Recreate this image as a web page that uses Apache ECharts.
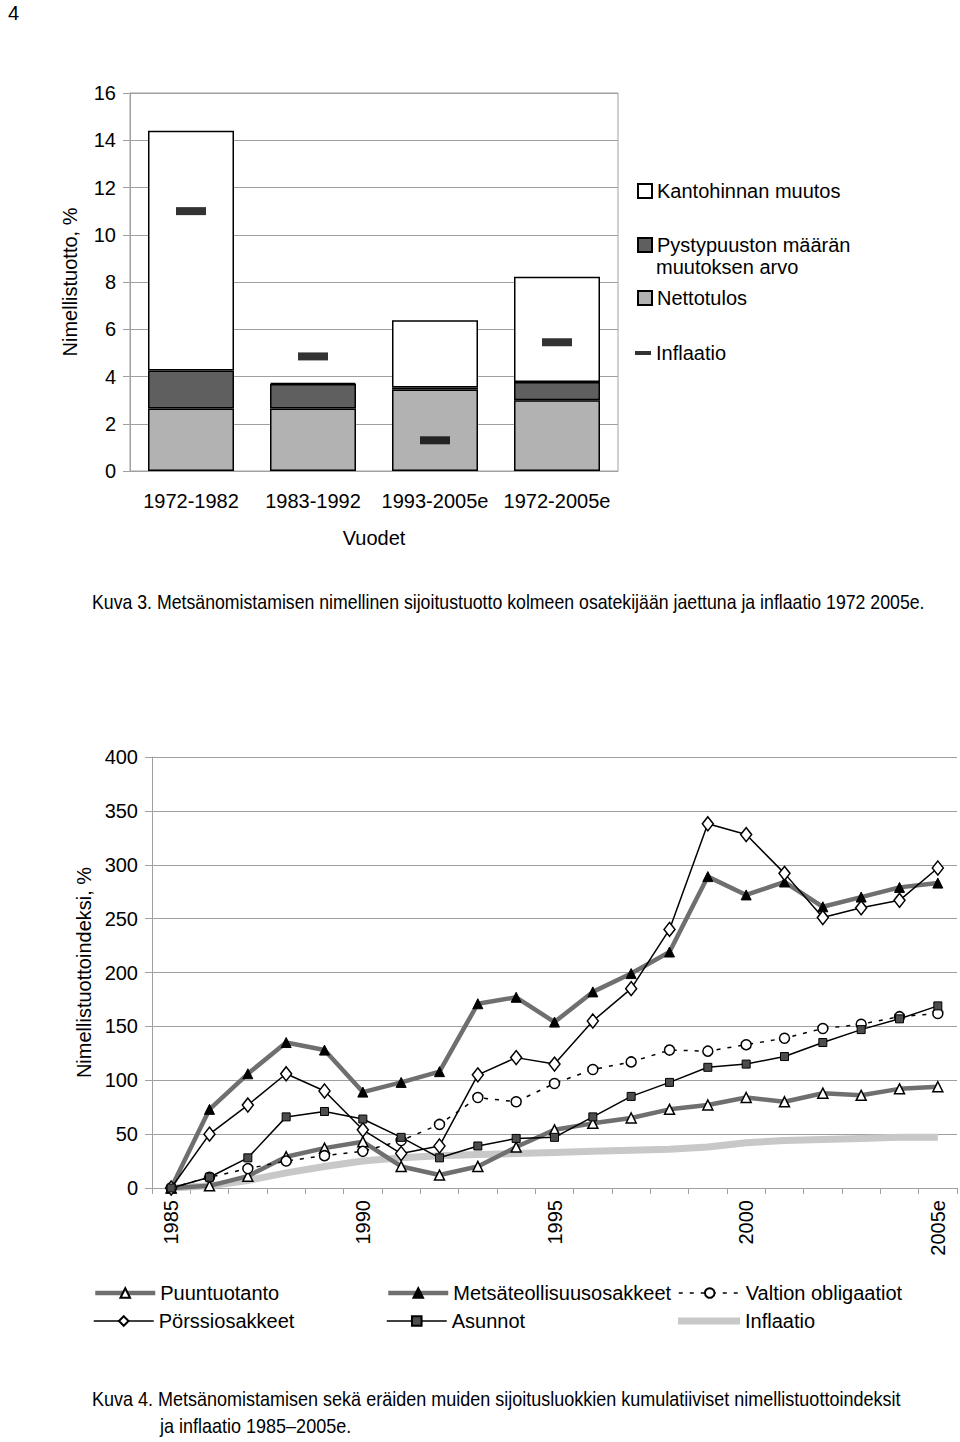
<!DOCTYPE html>
<html>
<head>
<meta charset="utf-8">
<script src="https://cdn.jsdelivr.net/npm/echarts@6/dist/echarts.min.js"></script>
<style>
html,body{margin:0;padding:0;background:#fff;}
#c{width:960px;height:1442px;}
</style>
</head>
<body>
<div id="c"></div>
<script>
// ---- Chart 1 data (Kuva 3) ----
const periods = ['1972-1982', '1983-1992', '1993-2005e', '1972-2005e'];
const nettotulos = [2.65, 2.65, 3.45, 3.0];
const pystypuusto = [1.6, 1.03, 0.08, 0.77];
const kantohinta = [10.15, 0.05, 2.85, 4.45];
const inflaatio1 = [11.0, 4.85, 1.3, 5.45];
const yTicks1 = [0, 2, 4, 6, 8, 10, 12, 14, 16];

// ---- Chart 2 data (Kuva 4) ----
const years = ['1985','1986','1987','1988','1989','1990','1991','1992','1993','1994','1995','1996','1997','1998','1999','2000','2001','2002','2003','2004','2005e'];
const puuntuotanto = [0, 2, 11, 29, 37, 43, 20, 12, 20, 38, 54, 60, 65, 73, 77, 84, 80, 88, 86, 92, 94];
const metsateollisuus = [0, 73, 106, 135, 128, 89, 98, 108, 171, 177, 154, 182, 199, 219, 289, 272, 284, 261, 270, 279, 283];
const obligaatiot = [0, 10, 18, 25, 30, 34, 44, 59, 84, 80, 97, 110, 117, 128, 127, 133, 139, 148, 152, 159, 162];
const porssi = [0, 50, 77, 106, 90, 54, 32, 39, 105, 121, 115, 155, 185, 240, 338, 328, 292, 251, 260, 267, 297];
const asunnot = [0, 10, 28, 66, 71, 64, 47, 28, 39, 46, 47, 66, 85, 98, 112, 115, 122, 135, 147, 157, 169];
const inflaatio2 = [0, 2, 7, 14, 20, 25, 28, 30, 31, 32, 33, 34, 35, 36, 38, 42, 44, 45, 46, 47, 47];

// captions
const caption3 = 'Kuva 3. Metsänomistamisen nimellinen sijoitustuotto kolmeen osatekijään jaettuna ja inflaatio 1972 2005e.';
const caption4a = 'Kuva 4. Metsänomistamisen sekä eräiden muiden sijoitusluokkien kumulatiiviset nimellistuottoindeksit';
const caption4b = 'ja inflaatio 1985–2005e.';

const F = 'Liberation Sans, Arial, sans-serif';
const GRID = '#a0a0a0';
const GRAYLINE = '#6f6f6f';

// narrow caption font emulation: horizontally condensed Liberation Sans
const CAPFONT = '20px "Liberation Sans"';
const mctx = document.createElement('canvas').getContext('2d');
mctx.font = CAPFONT;
const sx3 = 833 / mctx.measureText(caption3).width;
const sx4 = 809 / mctx.measureText(caption4a).width;

const chart = echarts.init(document.getElementById('c'), null, {renderer: 'svg'});

const pystyName = 'Pystypuuston määrän muutoksen arvo';

function lg(name, left, top, extra) {
  return Object.assign({
    data: [name], left: left, top: top, padding: 0, orient: 'horizontal',
    selectedMode: false,
    textStyle: {fontFamily: F, fontSize: 20, color: '#000', lineHeight: 24},
    lineStyle: {width: 'inherit'}
  }, extra || {});
}

function cap(text, x, y, s) {
  return {type: 'text', x: x, y: y, scaleX: s, scaleY: 1,
          style: {text: text, font: CAPFONT, fill: '#000', verticalAlign: 'middle', align: 'left'}};
}

const option = {
  animation: false,
  backgroundColor: '#fff',
  textStyle: {fontFamily: F},
  grid: [
    {left: 130, top: 93, width: 488, height: 378, show: true, borderColor: GRID, borderWidth: 1, backgroundColor: 'transparent'},
    {left: 152, top: 757, width: 805, height: 431}
  ],
  xAxis: [
    {
      gridIndex: 0, type: 'category', data: periods,
      axisLine: {lineStyle: {color: GRID, width: 1}},
      axisTick: {show: false},
      axisLabel: {color: '#000', fontFamily: F, fontSize: 20, margin: 20, interval: 0},
      name: 'Vuodet', nameLocation: 'middle', nameGap: 57,
      nameTextStyle: {color: '#000', fontFamily: F, fontSize: 20}
    },
    {
      gridIndex: 1, type: 'category', data: years, boundaryGap: true,
      axisLine: {lineStyle: {color: GRID, width: 1}},
      axisTick: {show: true, interval: 0, length: 6, lineStyle: {color: GRID}},
      axisLabel: {color: '#000', fontFamily: F, fontSize: 20, rotate: 90, interval: 4, margin: 12}
    }
  ],
  yAxis: [
    {
      gridIndex: 0, type: 'value', min: 0, max: 16, interval: 2,
      axisLine: {show: true, lineStyle: {color: GRID}},
      axisTick: {show: true, length: 7, lineStyle: {color: GRID}},
      splitLine: {lineStyle: {color: GRID, width: 1}},
      axisLabel: {color: '#000', fontFamily: F, fontSize: 20, margin: 14},
      name: 'Nimellistuotto, %', nameLocation: 'middle', nameRotate: 90, nameGap: 50,
      nameTextStyle: {color: '#000', fontFamily: F, fontSize: 20}
    },
    {
      gridIndex: 1, type: 'value', min: 0, max: 400, interval: 50,
      axisLine: {show: true, lineStyle: {color: GRID}},
      axisTick: {show: true, length: 7, lineStyle: {color: GRID}},
      splitLine: {lineStyle: {color: GRID, width: 1}},
      axisLabel: {color: '#000', fontFamily: F, fontSize: 20, margin: 14},
      name: 'Nimellistuottoindeksi, %', nameLocation: 'middle', nameRotate: 90, nameGap: 56,
      nameTextStyle: {color: '#000', fontFamily: F, fontSize: 20}
    }
  ],
  legend: [
    lg('Kantohinnan muutos', 637, 179, {icon: 'rect', itemWidth: 14, itemHeight: 14}),
    lg(pystyName, 637, 233, {icon: 'rect', itemWidth: 14, itemHeight: 14, formatter: function(){ return 'Pystypuuston määrän'; }}),
    lg('Nettotulos', 637, 286, {icon: 'rect', itemWidth: 14, itemHeight: 14}),
    lg('Inflaatio ', 635, 341, {icon: 'rect', itemWidth: 16, itemHeight: 4, formatter: function(){ return 'Inflaatio'; }}),
    lg('Puuntuotanto', 93, 1281, {itemWidth: 60, itemHeight: 12}),
    lg('Metsäteollisuusosakkeet', 386, 1281, {itemWidth: 60, itemHeight: 12}),
    lg('Valtion obligaatiot', 678, 1281, {itemWidth: 62, itemHeight: 12}),
    lg('Pörssiosakkeet', 93, 1309, {itemWidth: 60, itemHeight: 12}),
    lg('Asunnot', 386, 1309, {itemWidth: 60, itemHeight: 12}),
    lg('Inflaatio', 678, 1309, {icon: 'rect', itemWidth: 62, itemHeight: 7})
  ],
  graphic: [
    {type: 'text', left: 8, top: 3, style: {text: '4', font: '20px ' + F, fill: '#000'}},
    {type: 'text', left: 656, top: 257, style: {text: 'muutoksen arvo', font: '20px ' + F, fill: '#000'}},
    cap(caption3, 92, 602, sx3),
    cap(caption4a, 92, 1399, sx4),
    cap(caption4b, 160, 1426, sx4)
  ],
  series: [
    {name: 'Nettotulos', type: 'bar', xAxisIndex: 0, yAxisIndex: 0, stack: 's', barWidth: 86, data: nettotulos,
     itemStyle: {color: '#b2b2b2', borderColor: '#000', borderWidth: 1.5}},
    {name: pystyName, type: 'bar', xAxisIndex: 0, yAxisIndex: 0, stack: 's', barWidth: 86, data: pystypuusto,
     itemStyle: {color: '#5f5f5f', borderColor: '#000', borderWidth: 1.5}},
    {name: 'Kantohinnan muutos', type: 'bar', xAxisIndex: 0, yAxisIndex: 0, stack: 's', barWidth: 86, data: kantohinta,
     itemStyle: {color: '#fff', borderColor: '#000', borderWidth: 1.5}},
    {name: 'Inflaatio ', type: 'scatter', xAxisIndex: 0, yAxisIndex: 0, data: inflaatio1, symbol: 'rect', symbolSize: [30, 8],
     itemStyle: {color: '#000'}, z: 5},

    {name: 'Inflaatio', type: 'line', xAxisIndex: 1, yAxisIndex: 1, data: inflaatio2, symbol: 'none',
     lineStyle: {color: '#c8c8c8', width: 7}, itemStyle: {color: '#c8c8c8'}, z: 2},
    {name: 'Puuntuotanto', type: 'line', xAxisIndex: 1, yAxisIndex: 1, data: puuntuotanto, symbol: 'triangle', symbolSize: 10,
     lineStyle: {color: GRAYLINE, width: 4.5}, itemStyle: {color: '#fff', borderColor: '#000', borderWidth: 1.5}, z: 3},
    {name: 'Metsäteollisuusosakkeet', type: 'line', xAxisIndex: 1, yAxisIndex: 1, data: metsateollisuus, symbol: 'triangle', symbolSize: 10,
     lineStyle: {color: GRAYLINE, width: 4.5}, itemStyle: {color: '#000', borderColor: '#000', borderWidth: 1}, z: 3},
    {name: 'Valtion obligaatiot', type: 'line', xAxisIndex: 1, yAxisIndex: 1, data: obligaatiot, symbol: 'circle', symbolSize: 10,
     lineStyle: {color: '#000', width: 1.5, type: [4, 7]}, itemStyle: {color: '#fff', borderColor: '#000', borderWidth: 1.5}, z: 4},
    {name: 'Pörssiosakkeet', type: 'line', xAxisIndex: 1, yAxisIndex: 1, data: porssi, symbol: 'diamond', symbolSize: [11, 14],
     lineStyle: {color: '#000', width: 1.5}, itemStyle: {color: '#fff', borderColor: '#000', borderWidth: 1.5}, z: 4},
    {name: 'Asunnot', type: 'line', xAxisIndex: 1, yAxisIndex: 1, data: asunnot, symbol: 'rect', symbolSize: 8,
     lineStyle: {color: '#000', width: 1.5}, itemStyle: {color: '#4d4d4d', borderColor: '#000', borderWidth: 1}, z: 4}
  ]
};
chart.setOption(option);
</script>
</body>
</html>
